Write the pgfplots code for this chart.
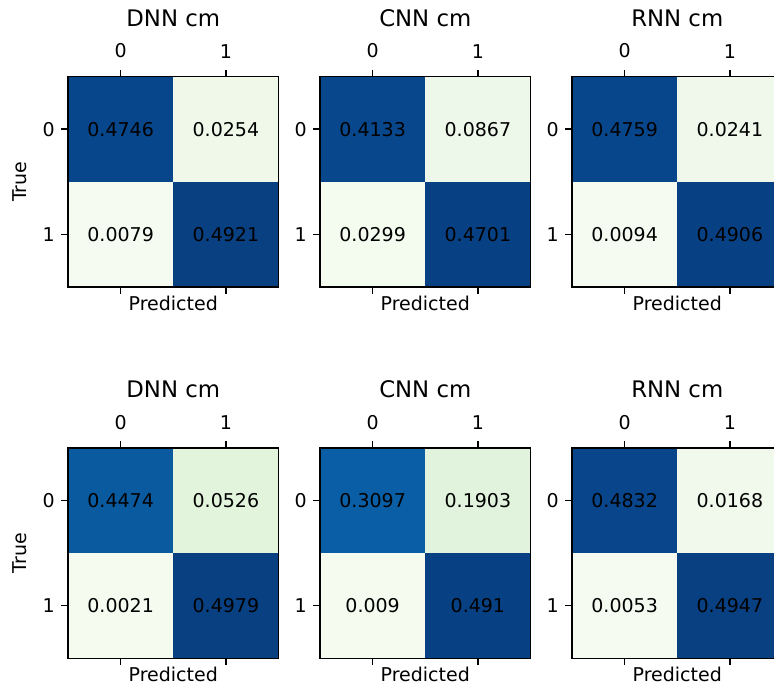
\documentclass[border=0pt]{standalone}
\usepackage{fontspec}
\setmainfont{DejaVu Sans}
\usepackage{pgfplots}
\pgfplotsset{compat=1.18}

% GnBu-like cell colours
\definecolor{dA}{HTML}{08468B}\definecolor{dB}{HTML}{EFF8E9}\definecolor{dC}{HTML}{F5FBF0}\definecolor{dD}{HTML}{084082}
\definecolor{cA}{HTML}{08478C}\definecolor{cB}{HTML}{EEF8EA}\definecolor{cC}{HTML}{F4FBEF}\definecolor{cD}{HTML}{084183}
\definecolor{rA}{HTML}{08468B}\definecolor{rB}{HTML}{EFF8EA}\definecolor{rC}{HTML}{F5FBF0}\definecolor{rD}{HTML}{084183}
\definecolor{DA}{HTML}{0A5A9F}\definecolor{DB}{HTML}{E3F4DD}\definecolor{DC}{HTML}{F6FBF0}\definecolor{DD}{HTML}{084082}
\definecolor{CA}{HTML}{0A5EA5}\definecolor{CB}{HTML}{E1F3DC}\definecolor{CC}{HTML}{F5FBEF}\definecolor{CD}{HTML}{084183}
\definecolor{RA}{HTML}{08458A}\definecolor{RB}{HTML}{F1F9EC}\definecolor{RC}{HTML}{F5FBF0}\definecolor{RD}{HTML}{084082}

\pgfplotsset{
  cm/.style={
    scale only axis, width=110.8pt, height=110.8pt, anchor=south west,
    xmin=-0.5, xmax=1.5, ymin=-0.5, ymax=1.5, y dir=reverse,
    xtick={0,1}, ytick={0,1}, tick align=outside,
    xtick pos=both, xticklabel pos=right, ytick pos=left,
    xticklabel shift={2.6pt},
    major tick length=3.5pt,
    major tick style={black, line width=0.8pt},
    axis line style={black, line width=0.8pt},
    axis on top,
    /pgf/number format/assume math mode=true,
    tick label style={font=\fontsize{10}{12}\selectfont},
    title style={at={(axis description cs:0.5,1.185)}, anchor=base, font=\fontsize{12}{14}\selectfont},
    xlabel={Predicted},
    xlabel style={at={(axis description cs:0.5,-0.112)}, anchor=base, font=\fontsize{10}{12}\selectfont},
    ylabel style={at={(axis description cs:-0.2275,0.5)}, anchor=center, rotate=0, font=\fontsize{10}{12}\selectfont},
  },
  vals/.style={only marks, mark=none, nodes near coords, point meta=explicit symbolic,
    every node near coord/.append style={anchor=center, text=black, font=\fontsize{10}{12}\selectfont}},
}

\begin{document}
\begin{tikzpicture}
\useasboundingbox (0,0) rectangle (407.36pt,362.09pt);
\clip (0,0) rectangle (407.36pt,362.09pt);

% ---------- top row ----------
\begin{axis}[cm, at={(35.79pt,211.05pt)}, title={DNN cm}, ylabel={True}]
\addplot[fill=dA, draw=none] coordinates {(-0.5,-0.5) (0.5,-0.5) (0.5,0.5) (-0.5,0.5)} -- cycle;
\addplot[fill=dB, draw=none] coordinates {(0.5,-0.5) (1.5,-0.5) (1.5,0.5) (0.5,0.5)} -- cycle;
\addplot[fill=dC, draw=none] coordinates {(-0.5,0.5) (0.5,0.5) (0.5,1.5) (-0.5,1.5)} -- cycle;
\addplot[fill=dD, draw=none] coordinates {(0.5,0.5) (1.5,0.5) (1.5,1.5) (0.5,1.5)} -- cycle;
\addplot[vals] table[meta=l] {
x y l
0 0 0.4746
1 0 0.0254
0 1 0.0079
1 1 0.4921
};
\end{axis}

\begin{axis}[cm, at={(168.42pt,211.05pt)}, title={CNN cm}]
\addplot[fill=cA, draw=none] coordinates {(-0.5,-0.5) (0.5,-0.5) (0.5,0.5) (-0.5,0.5)} -- cycle;
\addplot[fill=cB, draw=none] coordinates {(0.5,-0.5) (1.5,-0.5) (1.5,0.5) (0.5,0.5)} -- cycle;
\addplot[fill=cC, draw=none] coordinates {(-0.5,0.5) (0.5,0.5) (0.5,1.5) (-0.5,1.5)} -- cycle;
\addplot[fill=cD, draw=none] coordinates {(0.5,0.5) (1.5,0.5) (1.5,1.5) (0.5,1.5)} -- cycle;
\addplot[vals] table[meta=l] {
x y l
0 0 0.4133
1 0 0.0867
0 1 0.0299
1 1 0.4701
};
\end{axis}

\begin{axis}[cm, at={(301.04pt,211.05pt)}, title={RNN cm}]
\addplot[fill=rA, draw=none] coordinates {(-0.5,-0.5) (0.5,-0.5) (0.5,0.5) (-0.5,0.5)} -- cycle;
\addplot[fill=rB, draw=none] coordinates {(0.5,-0.5) (1.5,-0.5) (1.5,0.5) (0.5,0.5)} -- cycle;
\addplot[fill=rC, draw=none] coordinates {(-0.5,0.5) (0.5,0.5) (0.5,1.5) (-0.5,1.5)} -- cycle;
\addplot[fill=rD, draw=none] coordinates {(0.5,0.5) (1.5,0.5) (1.5,1.5) (0.5,1.5)} -- cycle;
\addplot[vals] table[meta=l] {
x y l
0 0 0.4759
1 0 0.0241
0 1 0.0094
1 1 0.4906
};
\end{axis}

% ---------- bottom row ----------
\begin{axis}[cm, at={(35.79pt,15.63pt)}, title={DNN cm}, ylabel={True}]
\addplot[fill=DA, draw=none] coordinates {(-0.5,-0.5) (0.5,-0.5) (0.5,0.5) (-0.5,0.5)} -- cycle;
\addplot[fill=DB, draw=none] coordinates {(0.5,-0.5) (1.5,-0.5) (1.5,0.5) (0.5,0.5)} -- cycle;
\addplot[fill=DC, draw=none] coordinates {(-0.5,0.5) (0.5,0.5) (0.5,1.5) (-0.5,1.5)} -- cycle;
\addplot[fill=DD, draw=none] coordinates {(0.5,0.5) (1.5,0.5) (1.5,1.5) (0.5,1.5)} -- cycle;
\addplot[vals] table[meta=l] {
x y l
0 0 0.4474
1 0 0.0526
0 1 0.0021
1 1 0.4979
};
\end{axis}

\begin{axis}[cm, at={(168.42pt,15.63pt)}, title={CNN cm}]
\addplot[fill=CA, draw=none] coordinates {(-0.5,-0.5) (0.5,-0.5) (0.5,0.5) (-0.5,0.5)} -- cycle;
\addplot[fill=CB, draw=none] coordinates {(0.5,-0.5) (1.5,-0.5) (1.5,0.5) (0.5,0.5)} -- cycle;
\addplot[fill=CC, draw=none] coordinates {(-0.5,0.5) (0.5,0.5) (0.5,1.5) (-0.5,1.5)} -- cycle;
\addplot[fill=CD, draw=none] coordinates {(0.5,0.5) (1.5,0.5) (1.5,1.5) (0.5,1.5)} -- cycle;
\addplot[vals] table[meta=l] {
x y l
0 0 0.3097
1 0 0.1903
0 1 0.009
1 1 0.491
};
\end{axis}

\begin{axis}[cm, at={(301.04pt,15.63pt)}, title={RNN cm}]
\addplot[fill=RA, draw=none] coordinates {(-0.5,-0.5) (0.5,-0.5) (0.5,0.5) (-0.5,0.5)} -- cycle;
\addplot[fill=RB, draw=none] coordinates {(0.5,-0.5) (1.5,-0.5) (1.5,0.5) (0.5,0.5)} -- cycle;
\addplot[fill=RC, draw=none] coordinates {(-0.5,0.5) (0.5,0.5) (0.5,1.5) (-0.5,1.5)} -- cycle;
\addplot[fill=RD, draw=none] coordinates {(0.5,0.5) (1.5,0.5) (1.5,1.5) (0.5,1.5)} -- cycle;
\addplot[vals] table[meta=l] {
x y l
0 0 0.4832
1 0 0.0168
0 1 0.0053
1 1 0.4947
};
\end{axis}
\end{tikzpicture}
\end{document}
